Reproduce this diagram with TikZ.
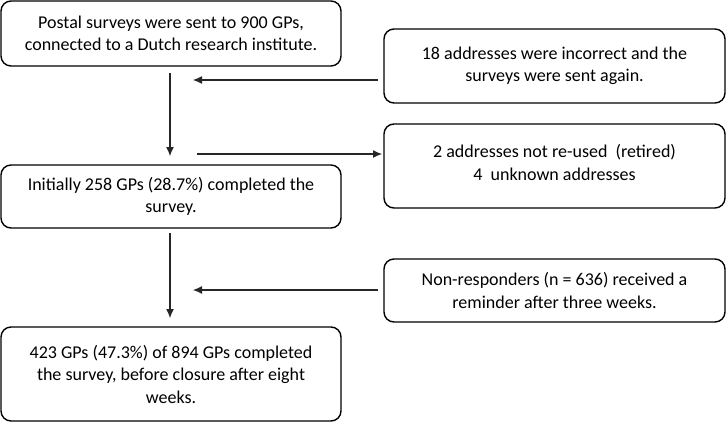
\documentclass[tikz,border=0pt]{standalone}
\usepackage{fontspec}
\setmainfont{Carlito}
\usetikzlibrary{arrows.meta,calc}
\begin{document}
\begin{tikzpicture}[x=1pt,y=1pt,
  box/.style={draw=black, line width=1.4pt, rounded corners=10pt, align=center,
    inner sep=0pt, font=\fontsize{18}{22.5}\selectfont},
  conn/.style={draw=black!85, line width=1.1pt, -{Latex[length=9pt,width=8pt]}}]
\useasboundingbox (0,0) rectangle (726,-423);
\node[box, minimum width=340pt, minimum height=65pt] (b1) at (171,-33.5)
  {Postal surveys were sent to 900 GPs,\\connected to a Dutch research institute.};
\node[box, minimum width=341pt, minimum height=74pt] (b2) at (554.5,-66)
  {18 addresses were incorrect and the\\surveys were sent again.};
\node[box, minimum width=341pt, minimum height=84pt] (b3) at (554.5,-166)
  {\begin{tabular}{@{}c@{}}2 addresses not re-used~~(retired)\\[1pt]4~~unknown addresses\end{tabular}\rule[-22pt]{0pt}{0pt}};
\node[box, minimum width=340pt, minimum height=63pt] (b4) at (171,-196.5)
  {Initially 258 GPs (28.7\%) completed the\\survey.};
\node[box, minimum width=341pt, minimum height=63pt] (b5) at (554.5,-290.5)
  {Non-responders (n = 636) received a\\reminder after three weeks.};
\node[box, minimum width=340pt, minimum height=94pt] (b6) at (171,-374)
  {423 GPs (47.3\%) of 894 GPs completed\\the survey, before closure after eight\\weeks.};
\coordinate (v1s) at (170,-73);
\coordinate (v1e) at (170,-156);
\coordinate (v2s) at (170,-233);
\coordinate (v2e) at (170,-318);
\coordinate (h1s) at (378,-80);
\coordinate (h1e) at (193,-80);
\coordinate (h2s) at (197,-154);
\coordinate (h2e) at (382,-154);
\coordinate (h3s) at (378,-290);
\coordinate (h3e) at (193,-290);
\draw[conn] (v1s) -- (v1e);
\draw[conn] (v2s) -- (v2e);
\draw[conn] (h1s) -- (h1e);
\draw[conn] (h2s) -- (h2e);
\draw[conn] (h3s) -- (h3e);
\end{tikzpicture}
\end{document}
